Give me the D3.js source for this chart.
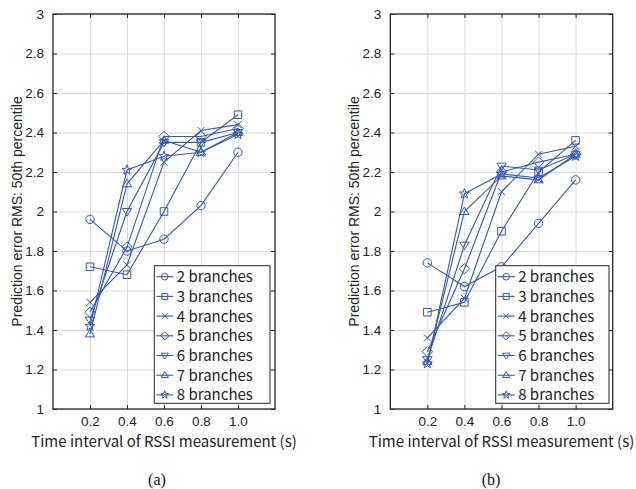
<!DOCTYPE html>
<html>
<head>
<meta charset="utf-8">
<script src="https://cdn.jsdelivr.net/npm/d3@7"></script>
<style>
  body { margin: 0; background: #fff; }
  svg { display: block; }
</style>
</head>
<body>
<script>
// time interval values (s) and their printed labels
var intervals = [0.2, 0.4, 0.6, 0.8, 1.0];
var xTickLabels = ["0.2", "0.4", "0.6", "0.8", "1.0"];
var yTicks = [1, 1.2, 1.4, 1.6, 1.8, 2, 2.2, 2.4, 2.6, 2.8, 3];
var gridX = [0.2, 0.4, 0.6, 0.8, 1.0];

var branchLabels = ["2 branches", "3 branches", "4 branches", "5 branches",
    "6 branches", "7 branches", "8 branches"];
var markerTypes = ["o", "s", "x", "d", "v", "^", "p"];

// panel (a), one row per branch count
var rmsA = [
    [1.96, 1.80, 1.86, 2.03, 2.30],
    [1.72, 1.68, 2.00, 2.35, 2.49],
    [1.54, 1.73, 2.25, 2.41, 2.44],
    [1.49, 1.82, 2.38, 2.38, 2.42],
    [1.45, 2.00, 2.35, 2.35, 2.40],
    [1.38, 2.14, 2.36, 2.30, 2.40],
    [1.42, 2.21, 2.28, 2.30, 2.39]
];

// panel (b)
var rmsB = [
    [1.74, 1.62, 1.72, 1.94, 2.16],
    [1.49, 1.54, 1.90, 2.20, 2.36],
    [1.36, 1.56, 2.10, 2.29, 2.33],
    [1.29, 1.71, 2.20, 2.25, 2.29],
    [1.25, 1.83, 2.23, 2.21, 2.29],
    [1.24, 2.00, 2.18, 2.16, 2.29],
    [1.23, 2.09, 2.19, 2.17, 2.28]
];

var width = 636, height = 489;
var blue = "#3457b5";
var axisColor = "#262626";

var svg = d3.select("body").append("svg")
    .attr("width", width)
    .attr("height", height);

function markerPath(type, s) {
    switch (type) {
    case "o":
        return "M" + (-s) + ",0A" + s + "," + s + " 0 1,0 " + s + ",0A" + s + "," + s + " 0 1,0 " + (-s) + ",0Z";
    case "s":
        var q = s * 0.9;
        return "M" + (-q) + "," + (-q) + "H" + q + "V" + q + "H" + (-q) + "Z";
    case "x":
        var c = s * 0.85;
        return "M" + (-c) + "," + (-c) + "L" + c + "," + c + "M" + (-c) + "," + c + "L" + c + "," + (-c);
    case "d":
        var r = s * 1.25;
        return "M0," + (-r) + "L" + r + ",0L0," + r + "L" + (-r) + ",0Z";
    case "v":
        return "M" + (-s * 1.1) + "," + (-s * 0.7) + "L" + (s * 1.1) + "," + (-s * 0.7) + "L0," + (s * 1.1) + "Z";
    case "^":
        return "M" + (-s * 1.1) + "," + (s * 0.7) + "L" + (s * 1.1) + "," + (s * 0.7) + "L0," + (-s * 1.1) + "Z";
    case "p":
        var pts = [];
        for (var i = 0; i < 10; i++) {
            var rr = (i % 2 == 0) ? s * 1.25 : s * 0.5;
            var a = -Math.PI / 2 + i * Math.PI / 5;
            pts.push([rr * Math.cos(a), rr * Math.sin(a)]);
        }
        return "M" + pts.map(function(p) { return p[0].toFixed(2) + "," + p[1].toFixed(2); }).join("L") + "Z";
    }
}

function drawPanel(box, rows, legendBox, caption) {
    var x = d3.scaleLinear().domain([0, 1.2]).range([box.left, box.right]);
    var y = d3.scaleLinear().domain([1, 3]).range([box.bottom, box.top]);
    var h = box.bottom - box.top;
    var w = box.right - box.left;

    var g = svg.append("g");

    // grid
    g.append("g")
        .attr("transform", "translate(0," + box.bottom + ")")
        .call(d3.axisBottom(x).tickValues(gridX).tickSize(-h).tickFormat(""))
        .call(function(s) {
            s.select(".domain").remove();
            s.selectAll("line").attr("stroke", "#dadada");
        });
    g.append("g")
        .attr("transform", "translate(" + box.left + ",0)")
        .call(d3.axisLeft(y).tickValues(yTicks).tickSize(-w).tickFormat(""))
        .call(function(s) {
            s.select(".domain").remove();
            s.selectAll("line").attr("stroke", "#dadada");
        });

    // lines
    var line = d3.line()
        .x(function(d, i) { return x(intervals[i]); })
        .y(function(d) { return y(d); });

    rows.forEach(function(row, k) {
        g.append("path")
            .datum(row)
            .attr("d", line)
            .attr("fill", "none")
            .attr("stroke", blue)
            .attr("stroke-width", 1.1);
        g.selectAll(null)
            .data(row)
            .enter()
            .append("path")
            .attr("transform", function(d, i) {
                return "translate(" + x(intervals[i]) + "," + y(d) + ")";
            })
            .attr("d", markerPath(markerTypes[k], 4.2))
            .attr("fill", "none")
            .attr("stroke", blue)
            .attr("stroke-width", 1);
    });

    // axes with ticks pointing inside
    var xAxis = d3.axisBottom(x)
        .tickValues(intervals)
        .tickFormat(function(d, i) { return xTickLabels[i]; })
        .tickSizeInner(-4).tickSizeOuter(0).tickPadding(7);
    var yAxis = d3.axisLeft(y)
        .tickValues(yTicks)
        .tickFormat(d3.format("~g"))
        .tickSizeInner(-4).tickSizeOuter(0).tickPadding(9);

    var gx = g.append("g")
        .attr("transform", "translate(0," + box.bottom + ")")
        .call(xAxis);
    var gy = g.append("g")
        .attr("transform", "translate(" + box.left + ",0)")
        .call(yAxis);
    var gt = g.append("g")
        .attr("transform", "translate(0," + box.top + ")")
        .call(d3.axisTop(x).tickValues(intervals).tickSizeInner(-4).tickSizeOuter(0).tickFormat(""));
    var gr = g.append("g")
        .attr("transform", "translate(" + box.right + ",0)")
        .call(d3.axisRight(y).tickValues(yTicks).tickSizeInner(-4).tickSizeOuter(0).tickFormat(""));

    [gx, gy, gt, gr].forEach(function(a) {
        a.select(".domain").remove();
        a.selectAll("line").attr("stroke", axisColor);
        a.selectAll("text")
            .attr("fill", "#222")
            .style("font-family", "'Liberation Sans', Arial, sans-serif")
            .style("font-size", "13.5px");
    });

    g.append("rect")
        .attr("x", box.left)
        .attr("y", box.top)
        .attr("width", w)
        .attr("height", h)
        .attr("fill", "none")
        .attr("stroke", axisColor)
        .attr("stroke-width", 1.3);

    // axis titles
    g.append("text")
        .attr("x", (box.left + box.right) / 2)
        .attr("y", 447)
        .attr("text-anchor", "middle")
        .attr("fill", "#222")
        .style("font-family", "'Noto Sans CJK JP', 'Noto Sans', sans-serif")
        .style("font-size", "15px")
        .text("Time interval of RSSI measurement (s)");

    g.append("text")
        .attr("transform", "translate(" + (box.left - 31) + "," + ((box.top + box.bottom) / 2) + ") rotate(-90)")
        .attr("text-anchor", "middle")
        .attr("fill", "#222")
        .style("font-family", "'Liberation Sans', Arial, sans-serif")
        .style("font-size", "14px")
        .text("Prediction error RMS: 50th percentile");

    g.append("text")
        .attr("x", caption.x)
        .attr("y", 485)
        .attr("text-anchor", "middle")
        .attr("fill", "#111")
        .style("font-family", "'Liberation Serif', 'Times New Roman', serif")
        .style("font-size", "16px")
        .text(caption.text);

    // legend
    var lg = g.append("g");
    lg.append("rect")
        .attr("x", legendBox.x)
        .attr("y", legendBox.y)
        .attr("width", legendBox.w)
        .attr("height", legendBox.h)
        .attr("fill", "#fff")
        .attr("stroke", axisColor)
        .attr("stroke-width", 1);

    var rowH = 19.7;
    branchLabels.forEach(function(label, k) {
        var cy = legendBox.y + 11 + k * rowH;
        lg.append("line")
            .attr("x1", legendBox.x + 2)
            .attr("x2", legendBox.x + 19)
            .attr("y1", cy).attr("y2", cy)
            .attr("stroke", blue)
            .attr("stroke-width", 1.1);
        lg.append("path")
            .attr("transform", "translate(" + (legendBox.x + 10.5) + "," + cy + ")")
            .attr("d", markerPath(markerTypes[k], 3.3))
            .attr("fill", "none")
            .attr("stroke", blue);
        lg.append("text")
            .attr("x", legendBox.x + 22.5)
            .attr("y", cy)
            .attr("dy", "0.36em")
            .attr("fill", "#222")
            .style("font-family", "'Noto Sans CJK JP', 'Noto Sans', sans-serif")
            .style("font-size", "15px")
            .text(label);
    });
}

drawPanel({left: 53, right: 275, top: 14, bottom: 409}, rmsA,
    {x: 154.3, y: 265.7, w: 115.7, h: 137.6}, {x: 157, text: "(a)"});
drawPanel({left: 390.3, right: 612.7, top: 14, bottom: 409}, rmsB,
    {x: 495.7, y: 265.7, w: 113.3, h: 137.6}, {x: 491, text: "(b)"});
</script>
</body>
</html>
